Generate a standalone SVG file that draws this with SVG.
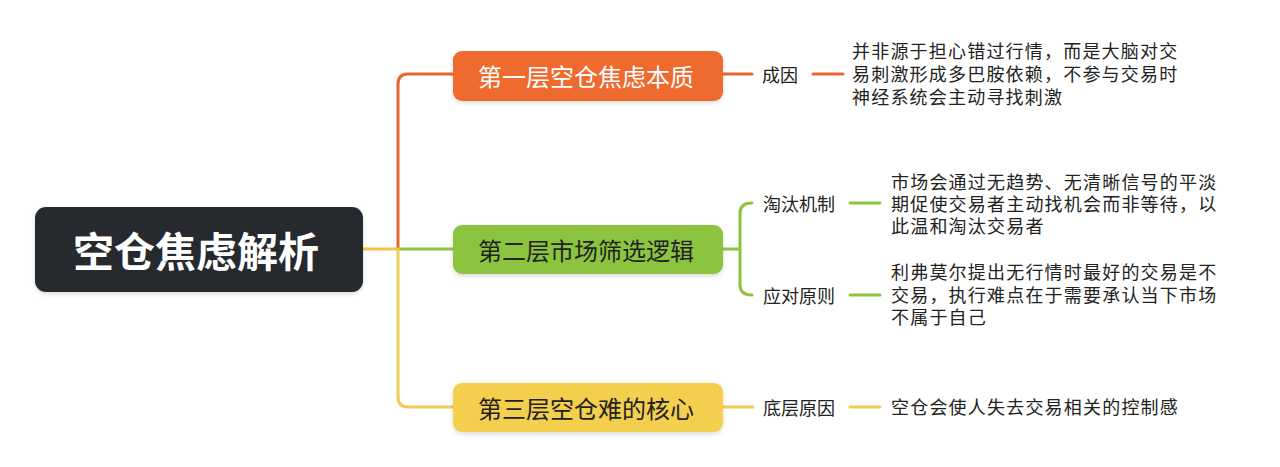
<svg xmlns="http://www.w3.org/2000/svg" width="1280" height="467" viewBox="0 0 1280 467">
  <defs>
    <filter id="sh" x="-10%" y="-20%" width="120%" height="150%">
      <feDropShadow dx="0" dy="2" stdDeviation="2" flood-color="#000" flood-opacity="0.15"/>
    </filter>
    <style>
      text { font-family: "Noto Sans CJK SC", "Noto Sans", sans-serif; }
      .root { font-size: 41px; font-weight: 700; fill: #ffffff; }
      .main { font-size: 24px; }
      .lbl { font-size: 18px; fill: #222222; }
      .leaf { font-size: 18px; letter-spacing: 1.2px; fill: #222222; }
      .ln { fill: none; stroke-width: 3; stroke-linecap: round; }
      .o { stroke: #e9672f; }
      .g { stroke: #8cc43f; }
      .y { stroke: #f2cd55; }
    </style>
  </defs>
  <rect width="1280" height="467" fill="#ffffff"/>

  <g id="connectors">
    <line class="ln" x1="363" y1="249" x2="398" y2="249" stroke="#f3c14a"/>
    <path class="ln o" d="M398 249 V84 Q398 74 408 74 H453"/>
    <line class="ln g" x1="398" y1="249" x2="453" y2="249"/>
    <path class="ln y" d="M398 249 V397 Q398 407 408 407 H453"/>
    <line class="ln o" x1="723" y1="74" x2="752" y2="74"/>
    <line class="ln o" x1="813" y1="74" x2="843" y2="74"/>
    <line class="ln g" x1="723" y1="249" x2="740" y2="249"/>
    <path class="ln g" d="M752 203 Q740 203 740 213 V285 Q740 295 752 295"/>
    <line class="ln g" x1="850" y1="203" x2="880" y2="203"/>
    <line class="ln g" x1="850" y1="295" x2="880" y2="295"/>
    <line class="ln y" x1="723" y1="407" x2="753" y2="407"/>
    <line class="ln y" x1="850" y1="407" x2="880" y2="407"/>
  </g>

  <g id="root">
    <rect x="35" y="207" width="328" height="85" rx="11" fill="#27292d" filter="url(#sh)"/>
    <text class="root" x="196" y="249" text-anchor="middle" dominant-baseline="central">空仓焦虑解析</text>
  </g>

  <g id="n1">
    <rect x="453" y="51" width="270" height="50" rx="9" fill="#ee6a2e" filter="url(#sh)"/>
    <text class="main" x="586" y="75" text-anchor="middle" dominant-baseline="central" fill="#ffffff">第一层空仓焦虑本质</text>
  </g>
  <g id="n2">
    <rect x="453" y="225" width="270" height="49" rx="9" fill="#8cc43f" filter="url(#sh)"/>
    <text class="main" x="586" y="249" text-anchor="middle" dominant-baseline="central" fill="#222222">第二层市场筛选逻辑</text>
  </g>
  <g id="n3">
    <rect x="453" y="383" width="270" height="49" rx="9" fill="#f4cf4d" filter="url(#sh)"/>
    <text class="main" x="586" y="407" text-anchor="middle" dominant-baseline="central" fill="#222222">第三层空仓难的核心</text>
  </g>

  <g id="l1">
    <text class="lbl" x="762" y="74" dominant-baseline="central">成因</text>
  </g>
  <g id="d1">
    <text class="leaf" dominant-baseline="central"><tspan x="852" y="50">并非源于担心错过行情，而是大脑对交</tspan><tspan x="852" y="73">易刺激形成多巴胺依赖，不参与交易时</tspan><tspan x="852" y="96">神经系统会主动寻找刺激</tspan></text>
  </g>

  <g id="l2">
    <text class="lbl" x="763" y="203" dominant-baseline="central">淘汰机制</text>
  </g>
  <g id="d2">
    <text class="leaf" dominant-baseline="central"><tspan x="891" y="181">市场会通过无趋势、无清晰信号的平淡</tspan><tspan x="891" y="203">期促使交易者主动找机会而非等待，以</tspan><tspan x="891" y="225">此温和淘汰交易者</tspan></text>
  </g>

  <g id="l3">
    <text class="lbl" x="763" y="295" dominant-baseline="central">应对原则</text>
  </g>
  <g id="d3">
    <text class="leaf" dominant-baseline="central"><tspan x="891" y="271">利弗莫尔提出无行情时最好的交易是不</tspan><tspan x="891" y="294">交易，执行难点在于需要承认当下市场</tspan><tspan x="891" y="316">不属于自己</tspan></text>
  </g>

  <g id="l4">
    <text class="lbl" x="763" y="407" dominant-baseline="central">底层原因</text>
  </g>
  <g id="d4">
    <text class="leaf" x="891" y="406" dominant-baseline="central">空仓会使人失去交易相关的控制感</text>
  </g>
</svg>
